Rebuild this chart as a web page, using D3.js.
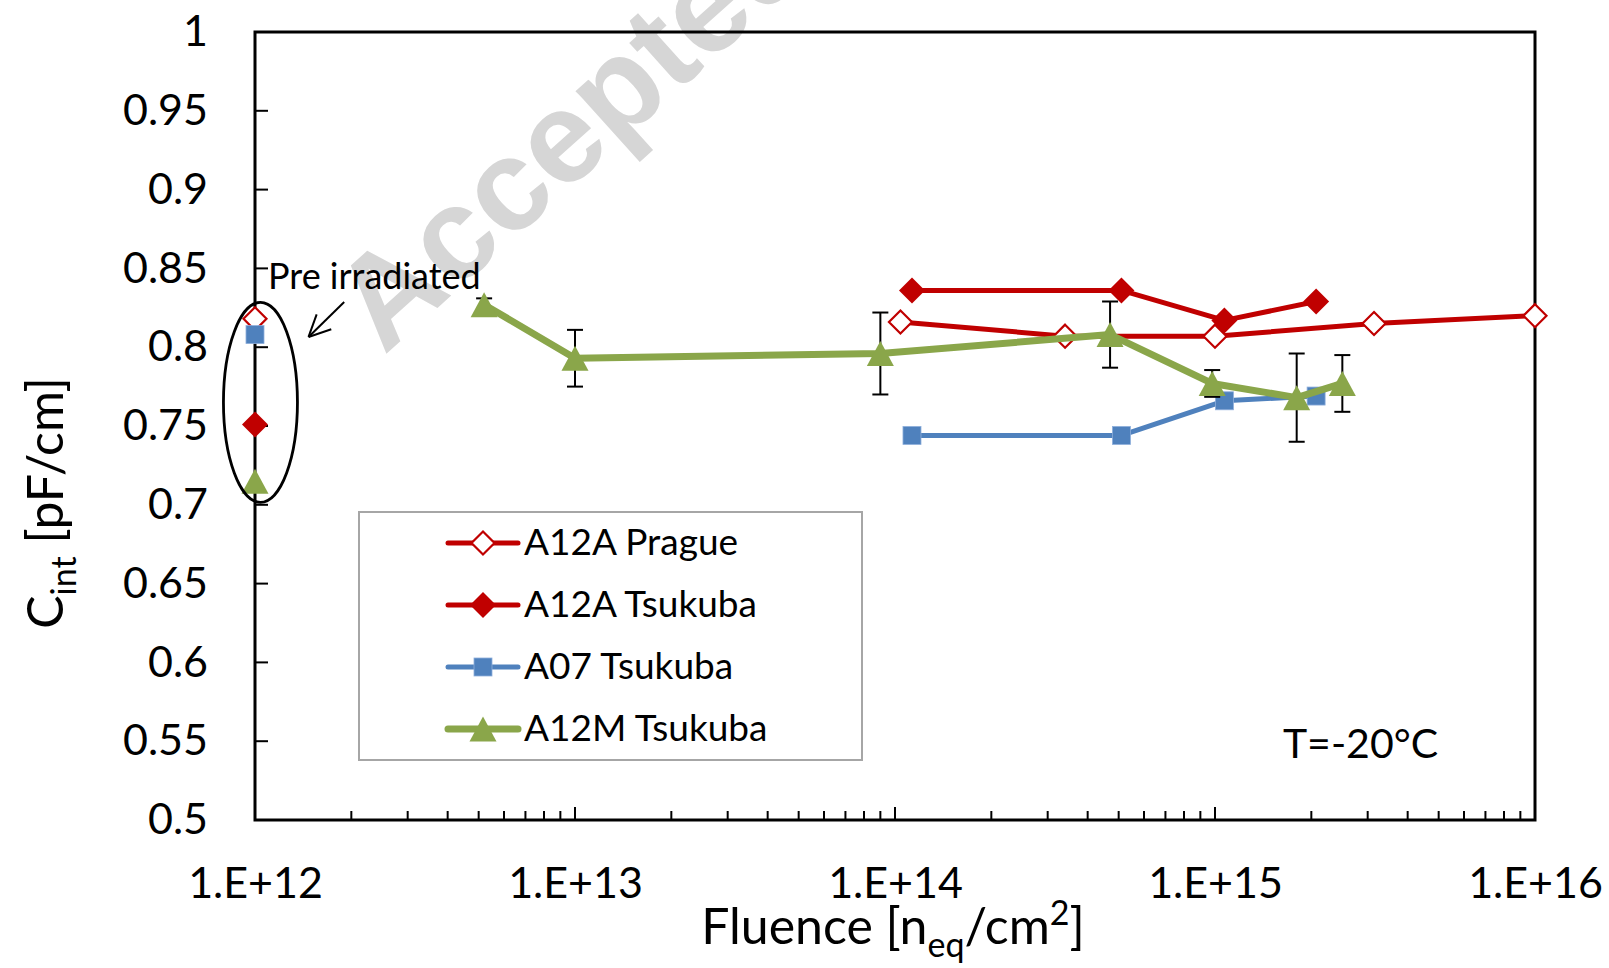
<!DOCTYPE html>
<html>
<head>
<meta charset="utf-8">
<script src="https://cdn.jsdelivr.net/npm/d3@7"></script>
<style>
  html, body { margin: 0; padding: 0; background: #fff; }
  svg { display: block; font-family: Lato, "Liberation Sans", sans-serif; }
</style>
</head>
<body>
<svg id="chart" width="1609" height="968"></svg>
<script>
// ---------- DATA ----------
const xTickValues = [1e12, 1e13, 1e14, 1e15, 1e16];
const yTickValues = [0.5, 0.55, 0.6, 0.65, 0.7, 0.75, 0.8, 0.85, 0.9, 0.95, 1];

const seriesNames = ["A12A Prague", "A12A Tsukuba", "A07 Tsukuba", "A12M Tsukuba"];

// pre-irradiated values (plotted at the left edge, fluence 1e12)
const preIrrFluence = [1e12, 1e12, 1e12, 1e12];
const preIrrC = [0.818, 0.751, 0.808, 0.715]; // Prague, A12A Tsukuba, A07, A12M

const pragueFluence = [1.04e14, 3.4e14, 1.0e15, 3.14e15, 1.0e16];
const pragueC = [0.816, 0.807, 0.807, 0.815, 0.820];

const a12aTsukubaFluence = [1.13e14, 5.1e14, 1.07e15, 2.07e15];
const a12aTsukubaC = [0.836, 0.836, 0.817, 0.829];

const a07TsukubaFluence = [1.13e14, 5.1e14, 1.07e15, 2.07e15];
const a07TsukubaC = [0.744, 0.744, 0.766, 0.769];

const a12mTsukubaFluence = [5.2e12, 1.0e13, 9.0e13, 4.7e14, 9.8e14, 1.8e15, 2.5e15];
const a12mTsukubaC = [0.827, 0.793, 0.796, 0.808, 0.777, 0.768, 0.777];
const a12mTsukubaErr = [0.004, 0.018, 0.026, 0.021, 0.0085, 0.028, 0.018];

// ---------- LAYOUT ----------
const svg = d3.select("#chart");
const W = 1609, H = 968;
const plot = { left: 255, right: 1535, top: 32, bottom: 820 };

const x = d3.scaleLog().domain([1e12, 1e16]).range([plot.left, plot.right]);
const y = d3.scaleLinear().domain([0.5, 1]).range([plot.bottom, plot.top]);

const RED = "#c00000", BLUE = "#4f81bd", GREEN = "#8aa64a";

svg.append("rect").attr("width", W).attr("height", H).attr("fill", "#fff");

// watermark
svg.append("text")
  .attr("transform", "translate(384,356) rotate(-42)")
  .attr("font-family", "'Liberation Sans', Arial, sans-serif")
  .attr("font-weight", "bold")
  .attr("font-size", 130)
  .attr("fill", "#d6d6d6")
  .text("Accepted");

// ---------- AXES ----------
const fmtY = d => String(+d.toFixed(2));
const fmtX = d => "1.E+" + Math.round(Math.log10(d));

const yAxis = d3.axisLeft(y).tickValues(yTickValues).tickFormat(fmtY).tickSize(0).tickPadding(47);
const gy = svg.append("g").attr("transform", `translate(${plot.left},0)`).call(yAxis);
gy.select(".domain").remove();
gy.selectAll("text").attr("font-size", 43).attr("fill", "#000").attr("font-family", "Lato, sans-serif");

// y ticks (inward)
svg.append("g").selectAll("line").data(yTickValues).join("line")
  .attr("x1", plot.left).attr("x2", plot.left + 13)
  .attr("y1", d => y(d)).attr("y2", d => y(d))
  .attr("stroke", "#000").attr("stroke-width", 2);

const xAxis = d3.axisBottom(x).tickValues(xTickValues).tickFormat(fmtX).tickSize(0).tickPadding(47);
const gx = svg.append("g").attr("transform", `translate(0,${plot.bottom})`).call(xAxis);
gx.select(".domain").remove();
gx.selectAll("text").attr("font-size", 43).attr("fill", "#000").attr("font-family", "Lato, sans-serif");

// x minor / major ticks (inward)
const minorX = [];
for (let e = 12; e < 16; e++) for (let m = 1; m <= 9; m++) minorX.push({ v: m * Math.pow(10, e), major: m === 1 });
minorX.push({ v: 1e16, major: true });
svg.append("g").selectAll("line").data(minorX).join("line")
  .attr("x1", d => x(d.v)).attr("x2", d => x(d.v))
  .attr("y1", plot.bottom).attr("y2", d => plot.bottom - (d.major ? 13 : 9))
  .attr("stroke", "#000").attr("stroke-width", 2);

// frame
svg.append("rect")
  .attr("x", plot.left).attr("y", plot.top)
  .attr("width", plot.right - plot.left).attr("height", plot.bottom - plot.top)
  .attr("fill", "none").attr("stroke", "#000").attr("stroke-width", 3);

// axis titles
const xt = svg.append("text").attr("x", 893).attr("y", 944).attr("text-anchor", "middle")
  .attr("font-size", 50).attr("fill", "#000");
xt.append("tspan").text("Fluence [n");
xt.append("tspan").attr("font-size", 34).attr("dy", 13).text("eq");
xt.append("tspan").attr("dy", -13).text("/cm");
xt.append("tspan").attr("font-size", 34).attr("dy", -19).text("2");
xt.append("tspan").attr("dy", 19).text("]");

const yt = svg.append("text").attr("transform", "translate(63,503) rotate(-90)").attr("text-anchor", "middle")
  .attr("font-size", 50).attr("fill", "#000");
yt.append("tspan").text("C");
yt.append("tspan").attr("font-size", 34).attr("dy", 13).text("int");
yt.append("tspan").attr("dy", -13).text(" [pF/cm]");

// ---------- MARKERS ----------
function drawMarker(g, kind, cx, cy, color) {
  if (kind === "openDiamond") {
    const r = 11.5;
    g.append("path").attr("d", `M${cx},${cy - r}L${cx + r},${cy}L${cx},${cy + r}L${cx - r},${cy}Z`)
      .attr("fill", "#fff").attr("stroke", color).attr("stroke-width", 2.2);
  } else if (kind === "diamond") {
    const r = 13;
    g.append("path").attr("d", `M${cx},${cy - r}L${cx + r},${cy}L${cx},${cy + r}L${cx - r},${cy}Z`)
      .attr("fill", color);
  } else if (kind === "square") {
    const s = 18;
    g.append("rect").attr("x", cx - s / 2).attr("y", cy - s / 2).attr("width", s).attr("height", s)
      .attr("fill", color).attr("stroke", "#8eaedb").attr("stroke-width", 0.8);
  } else if (kind === "triangle") {
    const w = 27, h = 25;
    g.append("path").attr("d", `M${cx},${cy - h / 2}L${cx + w / 2},${cy + h / 2}L${cx - w / 2},${cy + h / 2}Z`)
      .attr("fill", color);
  }
}

const series = [
  { name: seriesNames[0], fx: pragueFluence, c: pragueC, color: RED, width: 5, marker: "openDiamond", pre: preIrrC[0] },
  { name: seriesNames[1], fx: a12aTsukubaFluence, c: a12aTsukubaC, color: RED, width: 5, marker: "diamond", pre: preIrrC[1] },
  { name: seriesNames[2], fx: a07TsukubaFluence, c: a07TsukubaC, color: BLUE, width: 5, marker: "square", pre: preIrrC[2] },
  { name: seriesNames[3], fx: a12mTsukubaFluence, c: a12mTsukubaC, color: GREEN, width: 7, marker: "triangle", pre: preIrrC[3], err: a12mTsukubaErr }
];

const line = d3.line().x(d => x(d[0])).y(d => y(d[1]));
const dataG = svg.append("g");

series.forEach((s, i) => {
  const pts = s.fx.map((f, k) => [f, s.c[k]]);
  const g = dataG.append("g");
  if (s.err) {
    const eg = g.append("g");
    pts.forEach((p, k) => {
      const cx = x(p[0]), y1 = y(p[1] + s.err[k]), y2 = y(p[1] - s.err[k]);
      eg.append("line").attr("x1", cx).attr("x2", cx).attr("y1", y1).attr("y2", y2).attr("stroke", "#000").attr("stroke-width", 2);
      [y1, y2].forEach(yy => eg.append("line").attr("x1", cx - 8).attr("x2", cx + 8).attr("y1", yy).attr("y2", yy).attr("stroke", "#000").attr("stroke-width", 2));
    });
  }
  g.append("path").datum(pts).attr("d", line).attr("fill", "none")
    .attr("stroke", s.color).attr("stroke-width", s.width).attr("stroke-linejoin", "round").attr("stroke-linecap", "round");
  pts.forEach(p => drawMarker(g, s.marker, x(p[0]), y(p[1]), s.color));
});

// pre-irradiated points (drawn on the left axis)
const preOrder = [0, 2, 1, 3];
preOrder.forEach(i => drawMarker(dataG, series[i].marker, x(preIrrFluence[i]), y(series[i].pre), series[i].color));

// ---------- ANNOTATIONS ----------
svg.append("ellipse")
  .attr("cx", x(1.04e12)).attr("cy", y(0.765)).attr("rx", 37).attr("ry", 100)
  .attr("fill", "none").attr("stroke", "#000").attr("stroke-width", 2.8);

svg.append("text").attr("x", x(1.098e12)).attr("y", y(0.837))
  .attr("font-size", 36).attr("fill", "#000").text("Pre irradiated");

const tail = [x(1.9e12), y(0.8287)], tip = [x(1.47e12), y(0.8065)];
svg.append("line").attr("x1", tail[0]).attr("y1", tail[1]).attr("x2", tip[0]).attr("y2", tip[1])
  .attr("stroke", "#000").attr("stroke-width", 2);
const ang = Math.atan2(tail[1] - tip[1], tail[0] - tip[0]);
[-0.45, 0.45].forEach(a => {
  svg.append("line").attr("x1", tip[0]).attr("y1", tip[1])
    .attr("x2", tip[0] + 24 * Math.cos(ang + a)).attr("y2", tip[1] + 24 * Math.sin(ang + a))
    .attr("stroke", "#000").attr("stroke-width", 2);
});

svg.append("text").attr("x", x(1.63e15)).attr("y", y(0.5393))
  .attr("font-size", 41).attr("fill", "#000").text("T=-20°C");

// ---------- LEGEND ----------
const lg = svg.append("g");
lg.append("rect").attr("x", 359).attr("y", 512).attr("width", 503).attr("height", 248)
  .attr("fill", "#fff").attr("stroke", "#a6a6a6").attr("stroke-width", 2);
const legendY = [543, 605, 667, 729];
series.forEach((s, i) => {
  const yy = legendY[i];
  lg.append("line").attr("x1", 448).attr("x2", 518).attr("y1", yy).attr("y2", yy)
    .attr("stroke", s.color).attr("stroke-width", s.width).attr("stroke-linecap", "round");
  drawMarker(lg, s.marker, 483, yy, s.color);
  lg.append("text").attr("x", 524).attr("y", yy).attr("dy", "0.33em")
    .attr("font-size", 37).attr("fill", "#000").text(s.name);
});
</script>
</body>
</html>
